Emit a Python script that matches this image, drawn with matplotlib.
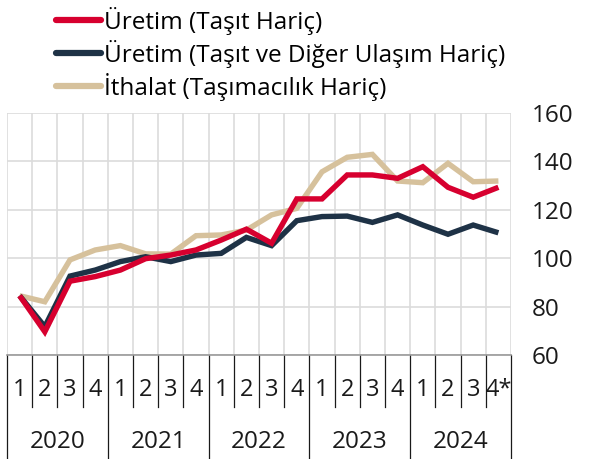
import matplotlib.pyplot as plt
import matplotlib.transforms as mtransforms

plt.rcParams['font.family'] = ['Open Sans', 'DejaVu Sans']

years = ['2020', '2021', '2022', '2023', '2024']
quarter_labels = ['1', '2', '3', '4'] * 4 + ['1', '2', '3', '4*']

uretim_tasit_haric = [84.5, 69.6, 90.5, 92.4, 95.1, 99.8, 101.3, 103.4, 107.5, 112.0,
                      106.2, 124.5, 124.5, 134.4, 134.4, 133.0, 137.8, 129.3, 125.2, 129.3]
uretim_tasit_diger_haric = [84.5, 71.7, 92.6, 95.1, 98.6, 100.6, 98.6, 101.3, 102.0, 108.6,
                            105.2, 115.5, 117.2, 117.4, 114.8, 117.9, 113.7, 109.9, 113.7, 110.5]
ithalat_tasimacilik_haric = [84.5, 82.0, 99.3, 103.4, 105.2, 101.8, 101.7, 109.3, 109.6, 111.6,
                             117.9, 120.6, 135.7, 141.7, 142.9, 131.9, 131.2, 139.2, 131.6, 131.9]

series = [
    ('Üretim (Taşıt Hariç)', uretim_tasit_haric, '#D7002F'),
    ('Üretim (Taşıt ve Diğer Ulaşım Hariç)', uretim_tasit_diger_haric, '#1E3246'),
    ('İthalat (Taşımacılık Hariç)', ithalat_tasimacilik_haric, '#D6C19C'),
]

fig = plt.figure(figsize=(5.89, 4.59), dpi=100)
ax = fig.add_axes([7 / 589, 1 - 355 / 459, 504 / 589, 242 / 459])

x = list(range(len(quarter_labels)))
handles = []
# draw in reverse so the red line sits on top like the original
for name, vals, color in reversed(series):
    h, = ax.plot(x, vals, color=color, lw=3.9, solid_joinstyle='miter', solid_capstyle='butt', label=name)
    handles.append(h)
handles = handles[::-1]

ax.set_xlim(-0.5, len(x) - 0.5)
ax.set_ylim(60, 160)
ax.set_yticks(range(60, 161, 20))
ax.yaxis.tick_right()
ax.tick_params(axis='y', length=0, pad=15, labelsize=17.5, colors='#1a1a1a')

ax.set_xticks([i - 0.5 for i in range(len(x) + 1)], minor=False)
ax.set_xticklabels([])
ax.tick_params(axis='x', length=0)
ax.grid(True, color='#dcdcdc', lw=1.2)
ax.set_axisbelow(True)
for side in ['top', 'left', 'right']:
    ax.spines[side].set_visible(False)
ax.spines['bottom'].set_color('#9a9a9a')
ax.spines['bottom'].set_linewidth(1.2)

trans = mtransforms.blended_transform_factory(ax.transData, ax.transAxes)
px = 1 / 242
for i, lab in enumerate(quarter_labels):
    ax.text(i, -35 * px, lab, transform=trans, ha='center', va='center', fontsize=17, color='#1a1a1a')
for b in range(len(x) + 1):
    yb = -104 * px if b % 4 == 0 else -52 * px
    ax.plot([b - 0.5, b - 0.5], [0, yb], transform=trans, color='#1a1a1a', lw=0.9, clip_on=False)
for k, yr in enumerate(years):
    ax.text(4 * k + 1.5, -87 * px, yr, transform=trans, ha='center', va='center', fontsize=17.5, color='#1a1a1a')

leg = fig.legend(handles=handles, loc='upper left', bbox_to_anchor=(46 / 589, 1.006),
                 frameon=False, fontsize=17.5, handlelength=1.85, handletextpad=0.12,
                 labelspacing=0.2, borderaxespad=0)
for line in leg.get_lines():
    line.set_linewidth(4.5)
    line.set_solid_capstyle('round')

fig.savefig('out.png', dpi=100)
